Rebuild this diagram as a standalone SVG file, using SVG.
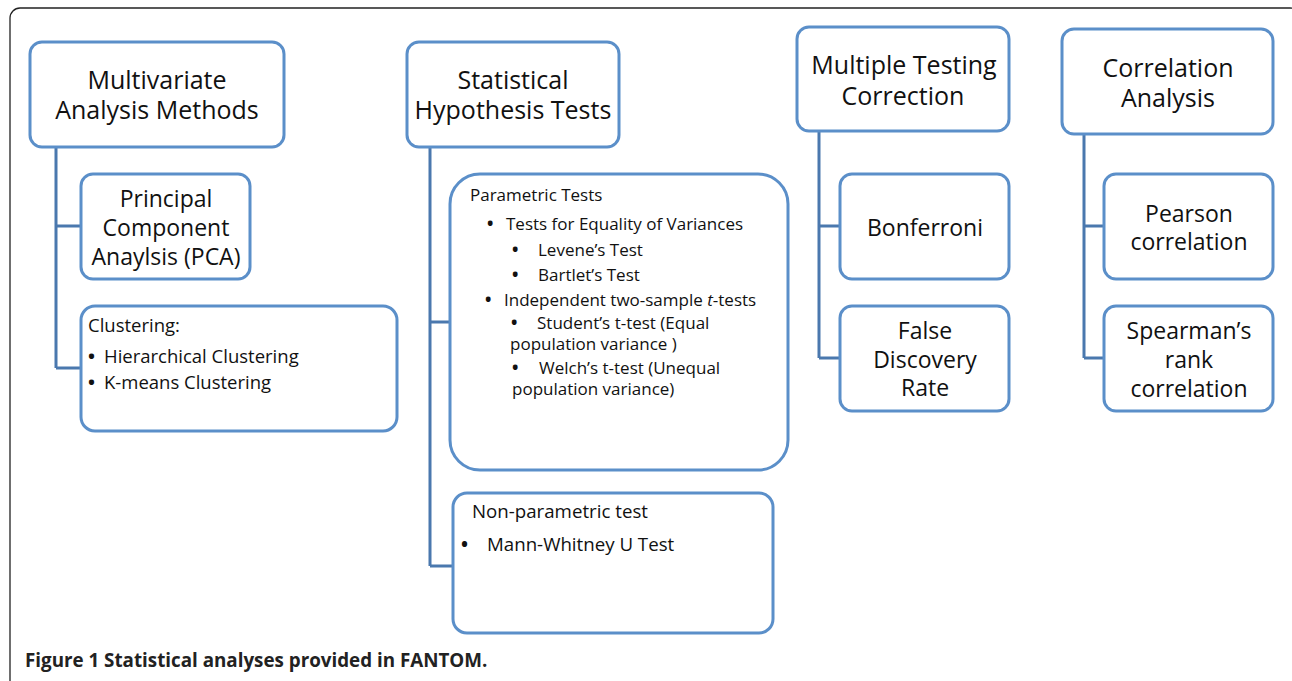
<svg xmlns="http://www.w3.org/2000/svg" width="1292" height="681" viewBox="0 0 1292 681">
<style>
.box{fill:#fff;stroke:#5b8fc9;stroke-width:3}
.con{fill:none;stroke:#4a78ae;stroke-width:3}
.t{font-family:"Open Sans",Lato,sans-serif;fill:#111}
.h{font-size:25px;text-anchor:middle}
.m{font-size:23px;text-anchor:middle}
.s{font-size:18.5px}
.p{font-size:17px}
.n{font-size:18.7px}
.b{font-weight:bold}
.cap{font-family:"Open Sans","Liberation Sans",sans-serif;font-weight:bold;font-size:18.8px;fill:#222}
</style>
<rect width="1292" height="681" fill="#fff"/>
<rect x="10" y="8" width="1290" height="684" rx="10" fill="none" stroke="#222" stroke-width="1.3"/>
<g id="connectors">
<path class="con" d="M56 147V368M56 226H81M56 368H81"/>
<path class="con" d="M430 147V566M430 322H450M430 566H453"/>
<path class="con" d="M819 131V358M819 226H840M819 358H840"/>
<path class="con" d="M1084 134V358M1084 226H1104M1084 358H1104"/>
</g>
<g id="multivariate">
<rect class="box" x="30" y="42" width="254" height="105" rx="12"/>
<text class="t h" x="157" y="89">Multivariate</text>
<text class="t h" x="157" y="119">Analysis Methods</text>
</g>
<g id="pca">
<rect class="box" x="81" y="174" width="169" height="105" rx="12"/>
<text class="t m" x="166" y="207">Principal</text>
<text class="t m" x="166" y="236">Component</text>
<text class="t m" x="166" y="265">Anaylsis (PCA)</text>
</g>
<g id="clustering">
<rect class="box" x="81" y="306" width="316" height="125" rx="14"/>
<text class="t s" x="88" y="332">Clustering:</text>
<text class="t s b" x="88" y="363">•</text><text class="t s" x="104" y="363">Hierarchical Clustering</text>
<text class="t s b" x="88" y="389">•</text><text class="t s" x="104" y="389">K-means Clustering</text>
</g>
<g id="hypothesis">
<rect class="box" x="407" y="42" width="212" height="105" rx="12"/>
<text class="t h" x="513" y="89">Statistical</text>
<text class="t h" x="513" y="119">Hypothesis Tests</text>
</g>
<g id="parametric">
<rect class="box" x="450" y="174" width="338" height="296" rx="30"/>
<text class="t p" x="470" y="201">Parametric Tests</text>
<text class="t p b" x="487" y="230">•</text><text class="t p" x="506" y="230">Tests for Equality of Variances</text>
<text class="t p b" x="512" y="256">•</text><text class="t p" x="538" y="256">Levene’s Test</text>
<text class="t p b" x="512" y="281">•</text><text class="t p" x="538" y="281">Bartlet’s Test</text>
<text class="t p b" x="485" y="306">•</text><text class="t p" x="504" y="306">Independent two-sample <tspan font-style="italic">t</tspan>-tests</text>
<text class="t p b" x="511" y="329">•</text><text class="t p" x="537" y="329">Student’s t-test (Equal</text>
<text class="t p" x="510" y="350">population variance )</text>
<text class="t p b" x="512" y="374">•</text><text class="t p" x="539" y="374">Welch’s t-test (Unequal</text>
<text class="t p" x="512" y="395">population variance)</text>
</g>
<g id="nonparametric">
<rect class="box" x="453" y="493" width="320" height="140" rx="14"/>
<text class="t n" x="472" y="518">Non-parametric test</text>
<text class="t n b" x="461" y="551">•</text><text class="t n" x="487" y="551">Mann-Whitney U Test</text>
</g>
<g id="multiple">
<rect class="box" x="797" y="27" width="212" height="104" rx="12"/>
<text class="t h" x="904" y="74">Multiple Testing</text>
<text class="t h" x="903" y="105">Correction</text>
</g>
<g id="bonferroni">
<rect class="box" x="840" y="174" width="169" height="105" rx="12"/>
<text class="t m" x="925" y="236">Bonferroni</text>
</g>
<g id="fdr">
<rect class="box" x="840" y="306" width="169" height="105" rx="12"/>
<text class="t m" x="925" y="339">False</text>
<text class="t m" x="925" y="368">Discovery</text>
<text class="t m" x="925" y="396">Rate</text>
</g>
<g id="correlation">
<rect class="box" x="1062" y="29" width="211" height="105" rx="12"/>
<text class="t h" x="1168" y="77">Correlation</text>
<text class="t h" x="1168" y="107">Analysis</text>
</g>
<g id="pearson">
<rect class="box" x="1104" y="174" width="169" height="105" rx="12"/>
<text class="t m" x="1189" y="222">Pearson</text>
<text class="t m" x="1189" y="250">correlation</text>
</g>
<g id="spearman">
<rect class="box" x="1104" y="306" width="169" height="105" rx="12"/>
<text class="t m" x="1189" y="339">Spearman’s</text>
<text class="t m" x="1189" y="368">rank</text>
<text class="t m" x="1189" y="397">correlation</text>
</g>
<text class="cap" x="25" y="667">Figure 1 Statistical analyses provided in FANTOM.</text>
</svg>
